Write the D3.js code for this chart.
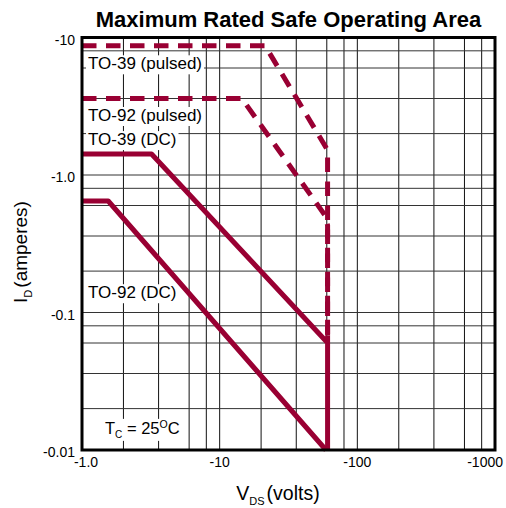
<!DOCTYPE html>
<html>
<head>
<meta charset="utf-8">
<script src="https://cdn.jsdelivr.net/npm/d3@7"></script>
<style>
  body { margin: 0; background: #fff; }
  svg { display: block; }
  text { font-family: "Liberation Sans", Arial, sans-serif; fill: #000; }
</style>
</head>
<body>
<svg width="506" height="508"></svg>
<script>
// axis ticks
var xTicks = [1, 10, 100, 1000];
var xTickLabels = ["-1.0", "-10", "-100", "-1000"];
var yTicks = [0.01, 0.1, 1, 10];
var yTickLabels = ["-0.01", "-0.1", "-1.0", "-10"];
var gridSteps = [2, 3.6, 6, 8];

// curves, [V, A]
var to39Pulsed = [[1, 8.7], [21.4, 8.7], [59.8, 1.56], [60.8, 1.42], [60.8, 0.068]];
var to92Pulsed = [[1, 3.6], [14.5, 3.6], [58.2, 0.51], [60.8, 0.43], [60.8, 0.068]];
var to39DC = [[1, 1.42], [3.2, 1.42], [59.8, 0.0613]];
var to92DC = [[1, 0.647], [1.55, 0.647], [59.2, 0.01]];
var vdsLimit = [[60.8, 0.068], [60.8, 0.01]];

var curveLabels = ["TO-39 (pulsed)", "TO-92 (pulsed)", "TO-39 (DC)", "TO-92 (DC)"];
var curveLabelAt = [5.87, 2.47, 1.65, 0.127];
var tempLabelAt = 0.0131;

function drawChart() {
    var red = "#990033";
    var svg = d3.select("svg");
    var W = 506;
    var pL = 82, pR = 495, pT = 37.5, pB = 450;

    var x = d3.scaleLog().domain([1, 1000]).range([pL, pR]);
    var y = d3.scaleLog().domain([0.01, 10]).range([pB, pT]);

    var gridX = [], gridY = [];
    [1, 10, 100].forEach(function(d) {
        gridSteps.forEach(function(s) { gridX.push(s * d); });
        if (d > 1) gridX.push(d);
    });
    [0.01, 0.1, 1].forEach(function(d) {
        gridSteps.forEach(function(s) { gridY.push(s * d); });
        if (d > 0.01) gridY.push(d);
    });

    // grid
    svg.append("g").selectAll("line").data(gridX).enter().append("line")
        .attr("x1", d => x(d)).attr("x2", d => x(d))
        .attr("y1", pT).attr("y2", pB)
        .attr("stroke", "#111").attr("stroke-width", 1);
    svg.append("g").selectAll("line").data(gridY).enter().append("line")
        .attr("y1", d => y(d)).attr("y2", d => y(d))
        .attr("x1", pL).attr("x2", pR)
        .attr("stroke", "#333").attr("stroke-width", 1);

    // labels sit on white boxes over the grid
    function boxed(t) {
        var b = t.node().getBBox();
        svg.insert("rect", function() { return t.node(); })
            .attr("x", b.x - 2).attr("y", b.y + 1)
            .attr("width", b.width + 4).attr("height", b.height)
            .attr("fill", "#fff");
    }

    curveLabels.forEach(function(s, i) {
        var t = svg.append("text")
            .attr("x", pL + 6).attr("y", y(curveLabelAt[i]))
            .attr("font-size", 17).text(s);
        boxed(t);
    });

    var tc = svg.append("text").attr("x", pL + 23).attr("y", y(tempLabelAt)).attr("font-size", 16.5);
    tc.append("tspan").text("T");
    tc.append("tspan").attr("font-size", 10).attr("dy", 4).text("C");
    tc.append("tspan").attr("dy", -4).text(" = 25");
    tc.append("tspan").attr("font-size", 10.5).attr("dy", -6).text("O");
    tc.append("tspan").attr("dy", 6).text("C");
    boxed(tc);

    // curves
    var line = d3.line().x(d => x(d[0])).y(d => y(d[1]));
    [to39Pulsed, to92Pulsed].forEach(function(c) {
        svg.append("path").attr("d", line(c))
            .attr("fill", "none").attr("stroke", red).attr("stroke-width", 5)
            .attr("stroke-dasharray", "14.5,9.5");
    });
    [to39DC, to92DC, vdsLimit].forEach(function(c) {
        svg.append("path").attr("d", line(c))
            .attr("fill", "none").attr("stroke", red).attr("stroke-width", 5)
            .attr("stroke-linejoin", "round");
    });

    // frame
    svg.append("rect").attr("x", pL).attr("y", pT)
        .attr("width", pR - pL).attr("height", pB - pT)
        .attr("fill", "none").attr("stroke", "#000").attr("stroke-width", 3);

    // tick labels
    svg.append("g").selectAll("text").data(xTicks).enter().append("text")
        .attr("x", d => x(d)).attr("y", pB + 17)
        .attr("text-anchor", "middle").attr("font-size", 14)
        .text((d, i) => xTickLabels[i])
        .each(function() {
            var w = this.getComputedTextLength();
            var cx = +this.getAttribute("x");
            if (cx + w / 2 > W - 3) this.setAttribute("x", W - 3 - w / 2);
            if (cx === pL) this.setAttribute("x", cx + 4);
        });
    svg.append("g").selectAll("text").data(yTicks).enter().append("text")
        .attr("x", pL - 7).attr("y", d => y(d) + 7)
        .attr("text-anchor", "end").attr("font-size", 14)
        .text((d, i) => yTickLabels[i]);

    // title and axis titles
    svg.append("text").attr("x", (pL + pR) / 2).attr("y", 27)
        .attr("text-anchor", "middle").attr("font-size", 22).attr("font-weight", "bold")
        .text("Maximum Rated Safe Operating Area");

    var xl = svg.append("text").attr("x", 278).attr("y", 500)
        .attr("text-anchor", "middle").attr("font-size", 19.5);
    xl.append("tspan").text("V");
    xl.append("tspan").attr("font-size", 11).attr("dy", 5).text("DS");
    xl.append("tspan").attr("dy", -5).attr("dx", 2).text("(volts)");

    var yl = svg.append("text").attr("transform", "translate(27,252) rotate(-90)")
        .attr("text-anchor", "middle").attr("font-size", 19);
    yl.append("tspan").text("I");
    yl.append("tspan").attr("font-size", 11).attr("dy", 5).text("D");
    yl.append("tspan").attr("dy", -5).attr("dx", 2).text("(amperes)");
}

drawChart();
</script>
</body>
</html>
